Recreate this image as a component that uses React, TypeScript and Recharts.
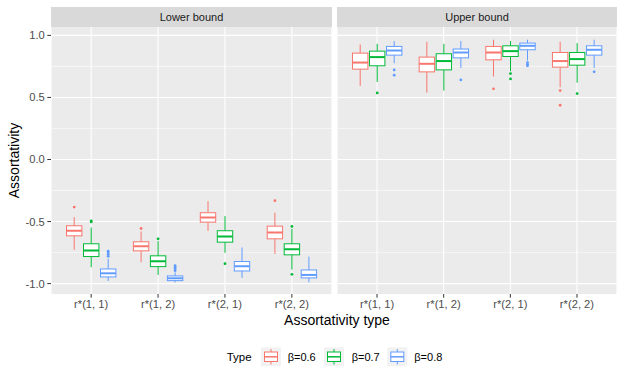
import React from "react"
import {
  Bar,
  CartesianGrid,
  ComposedChart,
  XAxis,
  YAxis,
} from "recharts"

const categories = ["r*(1, 1)", "r*(1, 2)", "r*(2, 1)", "r*(2, 2)"]
const betaLabels = ["β=0.6", "β=0.7", "β=0.8"]
const betaColors = ["#F8766D", "#00BA38", "#619CFF"]
const yTicks = [-1, -0.5, 0, 0.5, 1]
const yMinor = [-0.75, -0.25, 0.25, 0.75]

// five-number summaries per category: [lower whisker, Q1, median, Q3, upper whisker]
const lowerB06 = [
  [-0.728, -0.615, -0.574, -0.534, -0.464],
  [-0.828, -0.736, -0.699, -0.663, -0.58],
  [-0.574, -0.505, -0.467, -0.429, -0.337],
  [-0.76, -0.639, -0.588, -0.537, -0.429],
]
const lowerB07 = [
  [-0.868, -0.782, -0.734, -0.679, -0.548],
  [-0.93, -0.863, -0.82, -0.776, -0.658],
  [-0.752, -0.666, -0.62, -0.574, -0.456],
  [-0.887, -0.768, -0.723, -0.679, -0.558],
]
const lowerB08 = [
  [-0.979, -0.946, -0.917, -0.882, -0.8],
  [-0.99, -0.976, -0.957, -0.938, -0.909],
  [-0.954, -0.898, -0.86, -0.822, -0.709],
  [-0.99, -0.954, -0.93, -0.89, -0.782],
]
const upperB06 = [
  [0.593, 0.728, 0.781, 0.857, 0.927],
  [0.539, 0.706, 0.771, 0.825, 0.949],
  [0.668, 0.803, 0.862, 0.911, 0.965],
  [0.582, 0.744, 0.793, 0.862, 0.949],
]
const upperB07 = [
  [0.625, 0.755, 0.825, 0.873, 0.932],
  [0.555, 0.722, 0.793, 0.852, 0.932],
  [0.712, 0.83, 0.873, 0.916, 0.954],
  [0.619, 0.76, 0.809, 0.862, 0.938],
]
const upperB08 = [
  [0.776, 0.841, 0.878, 0.911, 0.954],
  [0.738, 0.819, 0.862, 0.89, 0.954],
  [0.797, 0.884, 0.916, 0.938, 0.965],
  [0.738, 0.841, 0.884, 0.916, 0.965],
]

// outliers per category
const lowerOut06 = [[-0.383], [-0.556], [], [-0.332]]
const lowerOut07 = [[-0.495, -0.503], [-0.639], [-0.839], [-0.539, -0.925]]
const lowerOut08 = [
  [-0.739, -0.752, -0.766, -0.78],
  [-0.855, -0.868, -0.882, -0.896],
  [],
  [],
]
const upperOut06 = [[], [], [0.569], [0.555, 0.437]]
const upperOut07 = [[0.536], [], [0.692, 0.649], [0.531]]
const upperOut08 = [[0.722, 0.679], [0.641], [0.781, 0.767, 0.755], [0.706]]

const FONT = "'Liberation Sans', Arial, Helvetica, sans-serif"
const DOMAIN: [number, number] = [-1.0837, 1.0675]

function buildRows(stats: number[][][], outs: number[][][]) {
  return categories.map((cat, i) => {
    const row: any = { cat }
    stats.forEach((s, k) => {
      row[`s${k}`] = { stats: s[i], out: outs[k][i] }
    })
    return row
  })
}

const lowerRows = buildRows(
  [lowerB06, lowerB07, lowerB08],
  [lowerOut06, lowerOut07, lowerOut08]
)
const upperRows = buildRows(
  [upperB06, upperB07, upperB08],
  [upperOut06, upperOut07, upperOut08]
)

function BoxShape(props: any) {
  const { x, y, width, height, payload, sk, color } = props
  const d = payload?.[sk]
  if (!d) return null
  const [lo, q1, med, q3, hi] = d.stats
  const top = Math.min(y, y + height)
  const h = Math.abs(height)
  const py = (v: number) => top + ((hi - v) / (hi - lo)) * h
  const cx = x + width / 2
  const bx = x + 0.8
  const bw = width - 1.6
  return (
    <g>
      <line x1={cx} x2={cx} y1={py(hi)} y2={py(q3)} stroke={color} strokeWidth={1} />
      <line x1={cx} x2={cx} y1={py(q1)} y2={py(lo)} stroke={color} strokeWidth={1} />
      <rect
        x={bx}
        y={py(q3)}
        width={bw}
        height={py(q1) - py(q3)}
        fill="#FFFFFF"
        stroke={color}
        strokeWidth={1}
      />
      <line x1={bx} x2={bx + bw} y1={py(med)} y2={py(med)} stroke={color} strokeWidth={2} />
      {d.out.map((v: number, j: number) => (
        <circle key={j} cx={cx} cy={py(v)} r={1.4} fill={color} />
      ))}
    </g>
  )
}

function Panel({ rows, showY }: { rows: any[]; showY: boolean }) {
  const w = showY ? 332 : 280
  return (
    <ComposedChart
      width={w}
      height={289}
      data={rows}
      margin={{ top: 0, right: 0, bottom: 0, left: 0 }}
      barCategoryGap={8}
      barGap={0}
    >
      <CartesianGrid
        fill="#EBEBEB"
        stroke="#FFFFFF"
        strokeWidth={0.55}
        horizontalValues={yMinor}
        vertical={false}
      />
      <CartesianGrid
        stroke="#FFFFFF"
        strokeWidth={1.1}
        horizontalValues={yTicks}
      />
      <XAxis
        dataKey="cat"
        interval={0}
        axisLine={false}
        tickLine={{ stroke: "#333333", strokeWidth: 1 }}
        tickSize={3.7}
        tickMargin={2}
        height={22}
        padding={{ left: 6.7, right: 6.7 }}
        tick={{ fill: "#4D4D4D", fontSize: 11.2, fontFamily: FONT }}
      />
      <YAxis
        type="number"
        domain={DOMAIN}
        allowDataOverflow
        ticks={yTicks}
        hide={!showY}
        width={showY ? 51 : 0}
        axisLine={false}
        tickLine={{ stroke: "#333333", strokeWidth: 1 }}
        tickSize={3.7}
        tickMargin={2.5}
        tickFormatter={(v: number) => v.toFixed(1)}
        tick={{ fill: "#4D4D4D", fontSize: 11.2, fontFamily: FONT }}
      />
      {betaColors.map((c, k) => (
        <Bar
          key={k}
          dataKey={(r: any) => [r[`s${k}`].stats[0], r[`s${k}`].stats[4]]}
          isAnimationActive={false}
          shape={(p: any) => <BoxShape {...p} sk={`s${k}`} color={c} />}
        />
      ))}
    </ComposedChart>
  )
}

function LegendKey({ x, color }: { x: number; color: string }) {
  return (
    <g>
      <rect x={x} y={347.3} width={20} height={19} fill="#F2F2F2" />
      <line x1={x + 10} x2={x + 10} y1={349} y2={352} stroke={color} />
      <line x1={x + 10} x2={x + 10} y1={361.5} y2={364.5} stroke={color} />
      <rect x={x + 3.5} y={352} width={13} height={9.5} fill="#FFFFFF" stroke={color} />
      <line x1={x + 3.5} x2={x + 16.5} y1={356.8} y2={356.8} stroke={color} strokeWidth={1.5} />
    </g>
  )
}

export default function App() {
  const keyX = [261, 324, 387.3]
  const labelX = [287.7, 351.7, 414.3]
  return (
    <div
      style={{
        position: "absolute",
        left: 0,
        top: 0,
        width: 623,
        height: 382,
        background: "#FFFFFF",
        fontFamily: FONT,
      }}
    >
      <svg width={623} height={382} style={{ position: "absolute", left: 0, top: 0 }}>
        <rect x={51} y={7} width={281} height={20.3} fill="#D9D9D9" />
        <rect x={337} y={7} width={280} height={20.3} fill="#D9D9D9" />
        <text x={191.5} y={21.2} textAnchor="middle" fontSize={11} fill="#1A1A1A" fontFamily={FONT}>
          Lower bound
        </text>
        <text x={477} y={21.2} textAnchor="middle" fontSize={11} fill="#1A1A1A" fontFamily={FONT}>
          Upper bound
        </text>
        <text
          x={0}
          y={0}
          transform="translate(19, 160.5) rotate(-90)"
          textAnchor="middle"
          fontSize={14}
          fill="#000000"
          fontFamily={FONT}
        >
          Assortativity
        </text>
        <text x={337} y={324.5} textAnchor="middle" fontSize={14} fill="#000000" fontFamily={FONT}>
          Assortativity type
        </text>
        <text x={226.7} y={360.5} fontSize={11.5} fill="#000000" fontFamily={FONT}>
          Type
        </text>
        {betaColors.map((c, k) => (
          <LegendKey key={k} x={keyX[k]} color={c} />
        ))}
        {betaLabels.map((l, k) => (
          <text key={l} x={labelX[k]} y={360.5} fontSize={11} fill="#000000" fontFamily={FONT}>
            {l}
          </text>
        ))}
      </svg>
      <div style={{ position: "absolute", left: 0, top: 27 }}>
        <Panel rows={lowerRows} showY={true} />
      </div>
      <div style={{ position: "absolute", left: 337, top: 27 }}>
        <Panel rows={upperRows} showY={false} />
      </div>
    </div>
  )
}
